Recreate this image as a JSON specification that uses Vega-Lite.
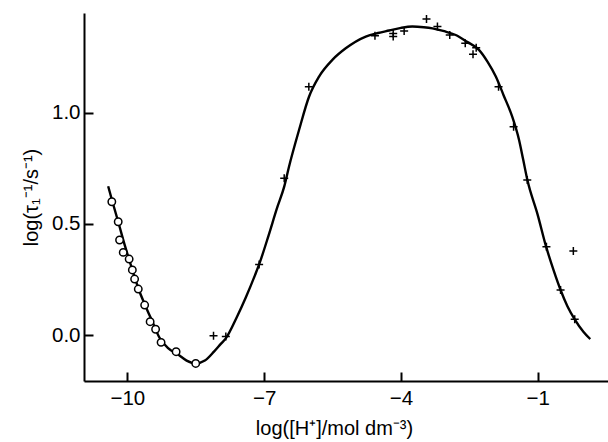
{
  "$schema": "https://vega.github.io/schema/vega-lite/v6.json",
  "autosize": {"type": "none"},
  "width": 524,
  "height": 368,
  "padding": {"left": 84, "top": 13, "right": 0, "bottom": 61},
  "background": "white",
  "config": {
    "view": {"stroke": null},
    "font": "Liberation Sans",
    "axis": {
      "domainColor": "black",
      "domainWidth": 2,
      "tickColor": "black",
      "tickWidth": 2,
      "tickSize": -9,
      "grid": false,
      "labelFont": "Liberation Sans",
      "labelFontSize": 20.5,
      "labelColor": "black",
      "titleFont": "Liberation Sans",
      "titleFontSize": 20,
      "titleFontWeight": "normal",
      "titleColor": "black"
    }
  },
  "datasets": {
    "curve": [
      {"x": -10.42, "y": 0.67}, {"x": -10.34, "y": 0.61}, {"x": -10.2, "y": 0.51},
      {"x": -10.05, "y": 0.4}, {"x": -9.9, "y": 0.3}, {"x": -9.75, "y": 0.205},
      {"x": -9.6, "y": 0.13}, {"x": -9.45, "y": 0.06}, {"x": -9.3, "y": -0.01},
      {"x": -9.1, "y": -0.06}, {"x": -8.87, "y": -0.09}, {"x": -8.7, "y": -0.115},
      {"x": -8.5, "y": -0.128}, {"x": -8.3, "y": -0.115}, {"x": -8.1, "y": -0.075},
      {"x": -7.95, "y": -0.04}, {"x": -7.84, "y": -0.015}, {"x": -7.6, "y": 0.08},
      {"x": -7.4, "y": 0.17}, {"x": -7.2, "y": 0.27}, {"x": -7.11, "y": 0.318},
      {"x": -6.9, "y": 0.45}, {"x": -6.72, "y": 0.57}, {"x": -6.56, "y": 0.668},
      {"x": -6.455, "y": 0.758}, {"x": -6.235, "y": 0.923}, {"x": -6.016, "y": 1.073},
      {"x": -5.796, "y": 1.164}, {"x": -5.504, "y": 1.239}, {"x": -5.211, "y": 1.291},
      {"x": -4.772, "y": 1.344}, {"x": -4.5, "y": 1.36}, {"x": -4.26, "y": 1.371},
      {"x": -4.0, "y": 1.383}, {"x": -3.75, "y": 1.389}, {"x": -3.5, "y": 1.386},
      {"x": -3.31, "y": 1.381}, {"x": -3.05, "y": 1.368}, {"x": -2.8, "y": 1.351},
      {"x": -2.55, "y": 1.32}, {"x": -2.29, "y": 1.284}, {"x": -2.1, "y": 1.23},
      {"x": -1.92, "y": 1.164}, {"x": -1.75, "y": 1.08}, {"x": -1.56, "y": 0.983},
      {"x": -1.41, "y": 0.878}, {"x": -1.32, "y": 0.79}, {"x": -1.23, "y": 0.7},
      {"x": -1.0, "y": 0.54}, {"x": -0.82, "y": 0.4}, {"x": -0.65, "y": 0.29},
      {"x": -0.5, "y": 0.203}, {"x": -0.35, "y": 0.13}, {"x": -0.19, "y": 0.071},
      {"x": 0.0, "y": 0.015}, {"x": 0.15, "y": -0.018}
    ],
    "circles": [
      {"x": -10.34, "y": 0.6}, {"x": -10.2, "y": 0.51}, {"x": -10.17, "y": 0.428},
      {"x": -10.09, "y": 0.372}, {"x": -9.96, "y": 0.342}, {"x": -9.89, "y": 0.293},
      {"x": -9.84, "y": 0.252}, {"x": -9.76, "y": 0.207}, {"x": -9.62, "y": 0.135},
      {"x": -9.5, "y": 0.06}, {"x": -9.38, "y": 0.026}, {"x": -9.26, "y": -0.033},
      {"x": -8.93, "y": -0.075}, {"x": -8.5, "y": -0.128}
    ],
    "plus": [
      {"x": -8.11, "y": -0.003}, {"x": -7.84, "y": -0.007}, {"x": -7.11, "y": 0.318},
      {"x": -6.56, "y": 0.706}, {"x": -6.02, "y": 1.118}, {"x": -4.57, "y": 1.348},
      {"x": -4.17, "y": 1.358}, {"x": -4.17, "y": 1.344}, {"x": -3.93, "y": 1.369},
      {"x": -3.44, "y": 1.423}, {"x": -3.2, "y": 1.389}, {"x": -2.93, "y": 1.351},
      {"x": -2.59, "y": 1.314}, {"x": -2.35, "y": 1.294}, {"x": -2.42, "y": 1.264},
      {"x": -1.86, "y": 1.118}, {"x": -1.53, "y": 0.938}, {"x": -1.23, "y": 0.698},
      {"x": -0.81, "y": 0.398}, {"x": -0.22, "y": 0.378}, {"x": -0.5, "y": 0.203},
      {"x": -0.19, "y": 0.071}
    ]
  },
  "encoding": {
    "x": {
      "field": "x", "type": "quantitative",
      "scale": {"domain": [-10.95, 0.54], "nice": false, "zero": false},
      "axis": {"values": [-10, -7, -4, -1], "title": "log([H⁺]/mol dm⁻³)", "labelPadding": 16, "titlePadding": 10, "titleX": 250}
    },
    "y": {
      "field": "y", "type": "quantitative",
      "scale": {"domain": [-0.207, 1.45], "nice": false, "zero": false},
      "axis": {"values": [0, 0.5, 1.0], "format": ".1f", "title": "log(τ₁⁻¹/s⁻¹)", "labelPadding": 13, "titlePadding": 10}
    }
  },
  "layer": [
    {
      "data": {"name": "curve"},
      "mark": {"type": "line", "color": "black", "strokeWidth": 2.4, "interpolate": "monotone"}
    },
    {
      "data": {"name": "circles"},
      "mark": {"type": "point", "shape": "circle", "size": 55, "filled": false, "fill": "white", "fillOpacity": 1, "stroke": "black", "strokeWidth": 1.5, "opacity": 1}
    },
    {
      "data": {"name": "plus"},
      "mark": {"type": "point", "shape": "M-1,0L1,0M0,-1L0,1", "size": 64, "filled": false, "stroke": "black", "strokeWidth": 1.5, "opacity": 1}
    }
  ]
}
